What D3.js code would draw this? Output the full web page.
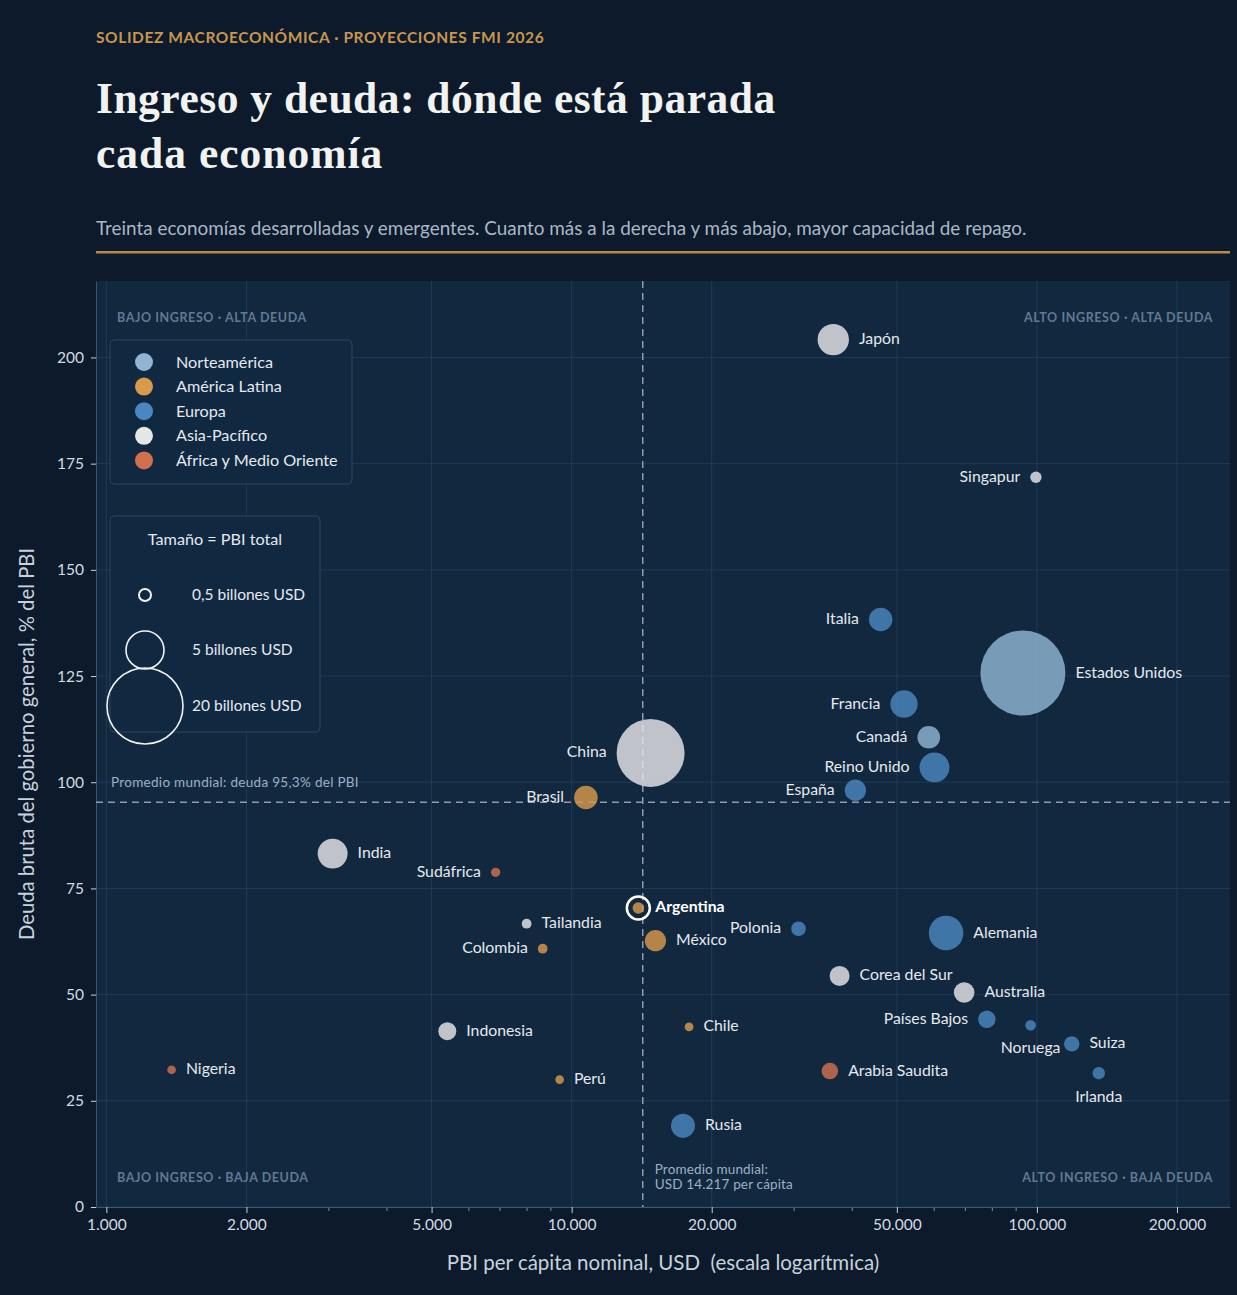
<!DOCTYPE html>
<html><head><meta charset="utf-8">
<script src="https://cdn.jsdelivr.net/npm/d3@7"></script>
<style>
html,body{margin:0;padding:0;background:#0c1a2b;}
svg{display:block;}
text{font-family:Lato,"Noto Sans",sans-serif;}
</style></head><body>
<svg id="chart" width="1237" height="1295"></svg>
<script>
// ---------- DATA ----------
const countries = ["Japón","Singapur","Italia","Estados Unidos","Francia","Canadá","Reino Unido","España","China","Brasil",
  "India","Sudáfrica","Argentina","Tailandia","Colombia","México","Polonia","Alemania","Corea del Sur","Australia",
  "Indonesia","Chile","Países Bajos","Noruega","Suiza","Nigeria","Perú","Arabia Saudita","Irlanda","Rusia"];
const regions = ["Asia-Pacífico","Asia-Pacífico","Europa","Norteamérica","Europa","Norteamérica","Europa","Europa","Asia-Pacífico","América Latina",
  "Asia-Pacífico","África y Medio Oriente","América Latina","Asia-Pacífico","América Latina","América Latina","Europa","Europa","Asia-Pacífico","Asia-Pacífico",
  "Asia-Pacífico","América Latina","Europa","Europa","Europa","África y Medio Oriente","América Latina","África y Medio Oriente","Europa","Europa"];
// PBI per cápita nominal, USD
const gdpPerCapita = [36500,99500,46150,93300,51800,58550,60230,40720,14780,10730,
  3064,6865,13910,8003,8665,15140,30730,63790,37660,69750,
  5405,17880,78050,96920,118800,1381,9423,35890,135800,17350];
// Deuda bruta del gobierno general, % del PBI
const debt = [204.2,171.8,138.3,125.7,118.4,110.6,103.5,98.1,106.9,96.4,
  83.2,78.8,70.4,66.7,60.8,62.7,65.5,64.5,54.4,50.5,
  41.4,42.4,44.2,42.8,38.4,32.3,30.0,32.0,31.5,19.1];
// PBI total, billones USD
const gdpTotal = [3.4,0.45,1.9,25.0,2.6,1.77,3.1,1.58,16.0,1.93,
  3.1,0.3,0.46,0.33,0.33,1.56,0.74,4.14,1.38,1.47,
  1.12,0.27,1.05,0.39,0.82,0.26,0.26,0.95,0.53,2.0];

const regionNames = ["Norteamérica","América Latina","Europa","Asia-Pacífico","África y Medio Oriente"];
const regionColors = ["#8fb5d3","#d9994a","#4a86c0","#e6e7e9","#d0704f"];

const xTicks = [1000,2000,5000,10000,20000,50000,100000,200000];
const yTicks = [0,25,50,75,100,125,150,175,200];
const sizeLegendValues = [0.5,5,20];
const sizeLegendLabels = ["0,5 billones USD","5 billones USD","20 billones USD"];
const worldIncome = 14217;
const worldDebt = 95.3;
const highlight = "Argentina";

// label placement (layout only)
const leftLabels = ["Singapur","Italia","Francia","Canadá","Reino Unido","España","China","Brasil","Sudáfrica","Colombia","Polonia","Países Bajos"];
const belowLabels = ["Noruega","Irlanda"];

// ---------- LAYOUT ----------
const W = 1237, H = 1295;
const P = {left:96, right:1230, top:281, bottom:1207};
const svg = d3.select("#chart");
const locale = d3.formatLocale({decimal:",", thousands:".", grouping:[3], currency:["$",""]});
const fmt = locale.format(",d");

svg.append("rect").attr("width",W).attr("height",H).attr("fill","#0c1a2b");

// Header
svg.append("text").attr("x",96).attr("y",43)
  .attr("fill","#c9964d").attr("font-size",15.5).attr("font-weight",700).attr("letter-spacing",0.6)
  .text("SOLIDEZ MACROECONÓMICA · PROYECCIONES FMI 2026");
const title = svg.append("text").attr("x",96).attr("y",113)
  .attr("fill","#f2f2f0").attr("font-size",43.5).attr("font-weight",700).attr("letter-spacing",0.5)
  .style("font-family","'Liberation Serif','DejaVu Serif',serif");
title.append("tspan").attr("x",96).attr("y",113).text("Ingreso y deuda: dónde está parada");
title.append("tspan").attr("x",96).attr("y",168).attr("letter-spacing",1).text("cada economía");
svg.append("text").attr("x",96).attr("y",235)
  .attr("fill","#aab7c6").attr("font-size",18.9)
  .text("Treinta economías desarrolladas y emergentes. Cuanto más a la derecha y más abajo, mayor capacidad de repago.");
svg.append("rect").attr("x",96).attr("y",251).attr("width",1134).attr("height",2.5).attr("fill","#b88a4a");

// Scales
const x = d3.scaleLog().domain([950,260000]).range([P.left,P.right]);
const y = d3.scaleLinear().domain([0,218]).range([P.bottom,P.top]);
const r = d3.scaleSqrt().domain([0,20]).range([0,38]);
const color = d3.scaleOrdinal().domain(regionNames).range(regionColors);

// Plot background
svg.append("rect").attr("x",P.left).attr("y",P.top).attr("width",P.right-P.left).attr("height",P.bottom-P.top)
  .attr("fill","#11283f");

// Grid
const grid = svg.append("g");
grid.selectAll("line.gx").data(xTicks).join("line")
  .attr("x1",d=>x(d)).attr("x2",d=>x(d)).attr("y1",P.top).attr("y2",P.bottom)
  .attr("stroke","#1f3b56").attr("stroke-width",1);
grid.selectAll("line.gy").data(yTicks).join("line")
  .attr("x1",P.left).attr("x2",P.right).attr("y1",d=>y(d)).attr("y2",d=>y(d))
  .attr("stroke","#1f3b56").attr("stroke-width",1);

// Axes
const minorTicks = x.ticks(30).filter(t => !xTicks.includes(t) && t>=x.domain()[0] && t<=x.domain()[1]);
const gxMinor = svg.append("g").attr("transform",`translate(0,${P.bottom})`)
  .call(d3.axisBottom(x).tickValues(minorTicks).tickSize(4).tickFormat(""));
gxMinor.select(".domain").remove();
gxMinor.selectAll(".tick line").attr("stroke","#7d8fa3");
const gx = svg.append("g").attr("transform",`translate(0,${P.bottom})`)
  .call(d3.axisBottom(x).tickValues(xTicks).tickSize(6).tickPadding(6).tickFormat(fmt).tickSizeOuter(0));
gx.select(".domain").attr("stroke","#3b5670");
gx.selectAll(".tick line").attr("stroke","#c8d2dc");
gx.selectAll(".tick text").attr("fill","#d3dae2").attr("font-size",15.5).style("font-family","Lato");

const gy = svg.append("g").attr("transform",`translate(${P.left},0)`)
  .call(d3.axisLeft(y).tickValues(yTicks).tickSize(5).tickPadding(7).tickSizeOuter(0));
gy.select(".domain").attr("stroke","#3b5670");
gy.selectAll(".tick line").attr("stroke","#c8d2dc");
gy.selectAll(".tick text").attr("fill","#d3dae2").attr("font-size",15.5).style("font-family","Lato");

// Axis titles
svg.append("text").attr("x",(P.left+P.right)/2).attr("y",1270).attr("text-anchor","middle")
  .attr("fill","#c8d2dc").attr("font-size",20.5).style("white-space","pre")
  .text("PBI per cápita nominal, USD  (escala logarítmica)");
svg.append("text").attr("transform",`translate(34,${(P.top+P.bottom)/2}) rotate(-90)`).attr("text-anchor","middle")
  .attr("fill","#c8d2dc").attr("font-size",20.3)
  .text("Deuda bruta del gobierno general, % del PBI");

// Quadrant labels
const q = svg.append("g").attr("fill","#617a93").attr("font-size",12.5).attr("font-weight",700).attr("letter-spacing",0.6);
q.append("text").attr("x",117).attr("y",322).text("BAJO INGRESO · ALTA DEUDA");
q.append("text").attr("x",1213).attr("y",322).attr("text-anchor","end").text("ALTO INGRESO · ALTA DEUDA");
q.append("text").attr("x",117).attr("y",1182).text("BAJO INGRESO · BAJA DEUDA");
q.append("text").attr("x",1213).attr("y",1182).attr("text-anchor","end").text("ALTO INGRESO · BAJA DEUDA");

// Reference lines
svg.append("line").attr("x1",x(worldIncome)).attr("x2",x(worldIncome)).attr("y1",P.top).attr("y2",P.bottom)
  .attr("stroke","#8a9db2").attr("stroke-width",1.5).attr("stroke-dasharray","7,5");
svg.append("line").attr("x1",P.left).attr("x2",P.right).attr("y1",y(worldDebt)).attr("y2",y(worldDebt))
  .attr("stroke","#8a9db2").attr("stroke-width",1.5).attr("stroke-dasharray","7,5");
svg.append("text").attr("x",111).attr("y",y(worldDebt)-15).attr("fill","#9db0c4").attr("font-size",13.5).attr("letter-spacing",0.3)
  .text("Promedio mundial: deuda 95,3% del PBI");
const ann = svg.append("text").attr("fill","#9db0c4").attr("font-size",13.5).attr("letter-spacing",0.15);
ann.append("tspan").attr("x",x(worldIncome)+12).attr("y",1174).text("Promedio mundial:");
ann.append("tspan").attr("x",x(worldIncome)+12).attr("y",1189).text("USD 14.217 per cápita");

// Bubbles
const data = countries.map((c,i)=>({name:c, region:regions[i], gdppc:gdpPerCapita[i], debt:debt[i], gdp:gdpTotal[i]}))
  .sort((a,b)=>b.gdp-a.gdp);
const bub = svg.append("g");
bub.selectAll("circle").data(data).join("circle")
  .attr("cx",d=>x(d.gdppc)).attr("cy",d=>y(d.debt)).attr("r",d=>r(d.gdp))
  .attr("fill",d=>color(d.region)).attr("fill-opacity",0.82);

// Highlight ring
const hl = data.find(d=>d.name===highlight);
svg.append("circle").attr("cx",x(hl.gdppc)).attr("cy",y(hl.debt)).attr("r",11.5)
  .attr("fill","none").attr("stroke","#ffffff").attr("stroke-width",2.5);

// Labels
const lab = svg.append("g").attr("font-size",15.8).attr("fill","#e6e9ee");
data.forEach(d=>{
  const cx = x(d.gdppc), cy = y(d.debt) - 2, rr = d.name===highlight ? 12 : r(d.gdp);
  const t = lab.append("text").attr("dominant-baseline","central").text(d.name);
  if (belowLabels.includes(d.name)) {
    t.attr("x",cx).attr("y",cy+rr+18).attr("text-anchor","middle");
  } else if (leftLabels.includes(d.name)) {
    t.attr("x",cx-rr-10).attr("y",cy).attr("text-anchor","end");
  } else {
    t.attr("x",cx+rr+(d.name===highlight?5:10)).attr("y",cy);
  }
  if (d.name===highlight) t.attr("font-weight",700).attr("fill","#ffffff");
});

// Region legend
const lg = svg.append("g");
lg.append("rect").attr("x",110).attr("y",340).attr("width",242).attr("height",144).attr("rx",4)
  .attr("fill","#112840").attr("fill-opacity",0.9).attr("stroke","#2c4661").attr("stroke-width",1);
regionNames.forEach((n,i)=>{
  const yy = 362 + i*24.6;
  lg.append("circle").attr("cx",144).attr("cy",yy).attr("r",9).attr("fill",color(n));
  lg.append("text").attr("x",176).attr("y",yy-1).attr("dominant-baseline","central")
    .attr("fill","#e6e9ee").attr("font-size",16.2).text(n);
});

// Size legend
const sg = svg.append("g");
sg.append("rect").attr("x",110).attr("y",516).attr("width",210).attr("height",216).attr("rx",4)
  .attr("fill","#112840").attr("fill-opacity",0.9).attr("stroke","#2c4661").attr("stroke-width",1);
sg.append("text").attr("x",215).attr("y",538.5).attr("text-anchor","middle").attr("dominant-baseline","central")
  .attr("fill","#e6e9ee").attr("font-size",16.2).text("Tamaño = PBI total");
const sizeRowY = [595,650,706];
sizeLegendValues.forEach((v,i)=>{
  sg.append("circle").attr("cx",145).attr("cy",sizeRowY[i]).attr("r",r(v))
    .attr("fill","none").attr("stroke","#f0f2f4").attr("stroke-width",i===0?2:1.6);
  sg.append("text").attr("x",192).attr("y",sizeRowY[i]-1).attr("dominant-baseline","central")
    .attr("fill","#e6e9ee").attr("font-size",15.5).text(sizeLegendLabels[i]);
});
</script>
</body></html>
